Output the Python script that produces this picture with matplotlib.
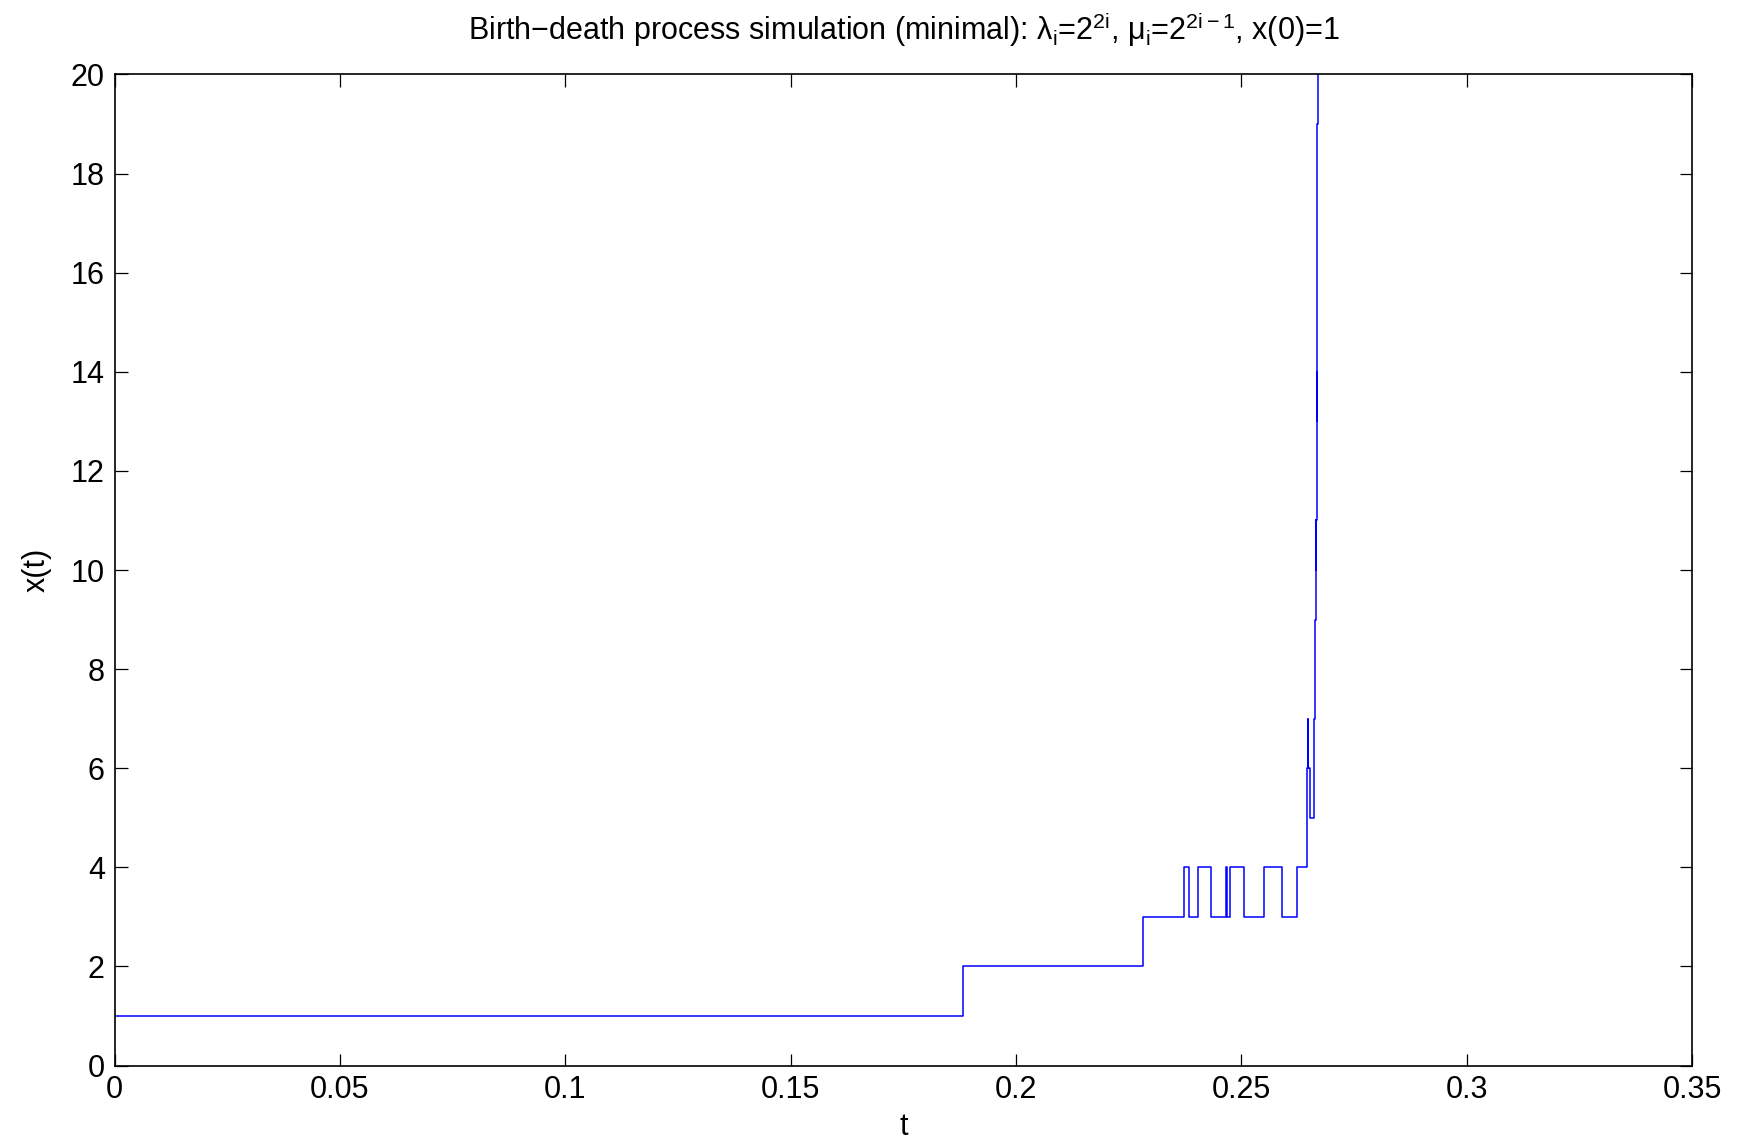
import matplotlib.pyplot as plt
import numpy as np

plt.rcParams['font.family'] = ['Liberation Sans', 'DejaVu Sans']
plt.rcParams['mathtext.fontset'] = 'custom'
plt.rcParams['mathtext.rm'] = 'Liberation Sans'
plt.rcParams['mathtext.it'] = 'Liberation Sans'
plt.rcParams['mathtext.default'] = 'regular'

# jump times and the state entered at each time
jump_times = [0.0, 0.18830, 0.22826, 0.23729, 0.23847, 0.24046, 0.24335,
              0.24661, 0.24690, 0.24750, 0.25067, 0.25504, 0.25910, 0.26237,
              0.26452, 0.26455, 0.26481, 0.26490, 0.26525, 0.26603, 0.26620,
              0.26636, 0.26645, 0.26652, 0.26658, 0.26662, 0.26666, 0.26670,
              0.26673, 0.26676, 0.26679, 0.26681, 0.26683, 0.26685, 0.26687,
              0.26689, 0.26690, 0.26691, 0.26692]
states = [1, 2, 3, 4, 3, 4, 3,
          4, 3, 4, 3, 4, 3, 4,
          5, 6, 7, 6, 5, 6, 7,
          8, 9, 10, 11, 10, 11, 12,
          13, 14, 13, 14, 15, 16, 17,
          18, 19, 20, 22]

xticks = [0, 0.05, 0.1, 0.15, 0.2, 0.25, 0.3, 0.35]
xtick_labels = ['0', '0.05', '0.1', '0.15', '0.2', '0.25', '0.3', '0.35']
yticks = list(range(0, 21, 2))

fig = plt.figure(figsize=(17.44, 11.39), dpi=100)
ax = fig.add_axes([0.0657, 0.0645, 0.9045, 0.8701])

ax.step(jump_times, states, where='post', color=(0, 0, 1), linewidth=1.1)

ax.set_xlim(0, 0.35)
ax.set_ylim(0, 20)
ax.set_xticks(xticks)
ax.set_xticklabels(xtick_labels)
ax.set_yticks(yticks)
ax.tick_params(direction='in', top=True, right=True, length=9, width=0.9,
               labelsize=22, pad=7)
for s in ax.spines.values():
    s.set_linewidth(1.2)

ax.set_xlabel('t', fontsize=22, labelpad=5)
ax.set_ylabel('x(t)', fontsize=22, labelpad=14)
ax.set_title('Birth\u2212death process simulation (minimal): '
             r'$\lambda_i$=2$^{2i}$, $\mu_i$=2$^{2i-1}$, x(0)=1',
             fontsize=22, pad=25)

fig.savefig('out.png', dpi=100)
